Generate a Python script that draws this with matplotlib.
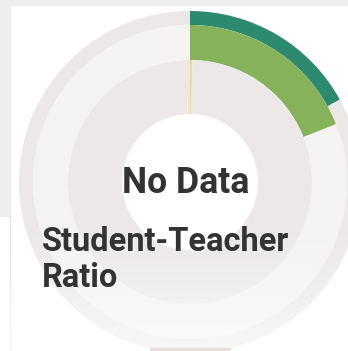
import numpy as np
import matplotlib.pyplot as plt
from matplotlib.patches import Rectangle

# ring shares (percent of the full circle)
outer_vals = [17, 83]      # dark green band
middle_vals = [19, 81]     # light green band
inner_vals = [0.3, 99.7]   # thin yellow marker

outer_colors = ['#2e8a6f', '#ebe8e7']
middle_colors = ['#86b25b', '#f4f2f3']
inner_colors = ['#f2d59c', '#ebe8e7']

center_text = "No Data"
title_lines = ["Student-Teacher", "Ratio"]

W, H = 348, 351
fig = plt.figure(figsize=(W / 100, H / 100), dpi=100)
fig.patch.set_facecolor('white')
ax = fig.add_axes([0, 0, 1, 1])

# page background around the card
ax.add_patch(Rectangle((0, H - 5), W, 5, color='#eeeeee', zorder=0))
ax.add_patch(Rectangle((0, H - 216), 10, 216, color='#eeeeee', zorder=0))
ax.plot([9.5, 9.5], [0, H - 216], color='#e4e4e4', lw=1, zorder=0)

cx, cy = 190, H - 182
ring_kw = dict(center=(cx, cy), startangle=90, counterclock=False, frame=True)
ax.pie(outer_vals, radius=171, colors=outer_colors,
       wedgeprops=dict(width=14, linewidth=0), **ring_kw)
ax.pie(middle_vals, radius=157, colors=middle_colors,
       wedgeprops=dict(width=35, linewidth=0), **ring_kw)
ax.pie(inner_vals, radius=122, colors=inner_colors,
       wedgeprops=dict(width=54, linewidth=0), **ring_kw)

# white fade over the lower part
fade = np.linspace(0, 1, 200)[:, None] ** 1.2
rgba = np.ones((200, 1, 4))
rgba[..., 3] = 0.7 * fade
ax.imshow(rgba, extent=(0, W, 0, H - 222), origin='upper', aspect='auto', zorder=5)
ax.add_patch(Rectangle((150, 0), 80, 3, color='#e9dfdf', zorder=6))

ax.text(185.5, H - 193, center_text, ha='center', va='baseline',
        fontsize=25.7, fontweight='bold', family='Roboto', color='#333333', zorder=10)
ax.text(42, H - 251, title_lines[0], ha='left', va='baseline',
        fontsize=23.5, fontweight='bold', family='Roboto', color='#333333', zorder=10)
ax.text(42, H - 287, title_lines[1], ha='left', va='baseline',
        fontsize=23.5, fontweight='bold', family='Roboto', color='#333333', zorder=10)

ax.set_xlim(0, W)
ax.set_ylim(0, H)
ax.set_aspect('auto')
ax.axis('off')

fig.savefig('out.png', dpi=100)
